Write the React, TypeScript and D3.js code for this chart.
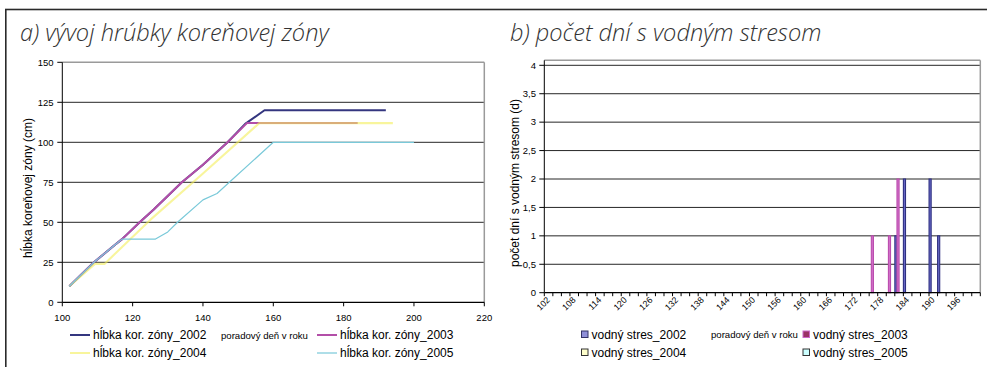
import React from "react";
import * as d3 from "d3";

// ---------- Data: left chart (root zone depth, cm) ----------
const years = ["2002", "2003", "2004", "2005"];
const depth2002Days = [102, 109, 115, 117, 122, 126, 134, 140, 147, 152, 157.5, 192];
const depth2002Vals = [10, 25, 36, 39.5, 50, 58, 75, 86, 100, 111.5, 120, 120];
const depth2003Days = [102, 109, 115, 117, 122, 126, 134, 140, 147, 152.5, 184];
const depth2003Vals = [10, 25, 36, 39.5, 50, 58, 75, 86, 100, 112, 112];
const depth2004Days = [102, 109.3, 112, 125, 140, 156, 194];
const depth2004Vals = [10, 24, 24, 51.5, 80.5, 112, 112];
const depth2005Days = [102, 109, 115, 117, 126.5, 130, 133, 140, 144, 147.5, 160, 200];
const depth2005Vals = [10, 25, 36, 39.5, 39.5, 44, 50.5, 64, 68, 75, 100, 100];
const leftXTicks = [100, 120, 140, 160, 180, 200, 220];
const leftYTicks = [0, 25, 50, 75, 100, 125, 150];

// ---------- Data: right chart (days with water stress) ----------
const stressDays = [
  102, 104, 106, 108, 110, 112, 114, 116, 118, 120, 122, 124, 126, 128, 130, 132, 134, 136, 138, 140,
  142, 144, 146, 148, 150, 152, 154, 156, 157, 158, 160, 162, 164, 166, 168, 170, 172, 174, 176, 178,
  180, 182, 184, 186, 188, 190, 192, 194, 196, 198, 200,
];
const stress2002Days = [182, 184, 190, 192];
const stress2002Vals = [1, 2, 2, 1];
const stress2003Days = [176, 180, 182];
const stress2003Vals = [1, 1, 2];
const stress2004Days: number[] = [];
const stress2004Vals: number[] = [];
const stress2005Days: number[] = [];
const stress2005Vals: number[] = [];
const rightYTicks = [0, 0.5, 1, 1.5, 2, 2.5, 3, 3.5, 4];

const lineColors = ["#34367f", "#b34fa8", "#f3ee5a", "#79c9d9"];
const lineWidths = [2, 2, 2.1, 1.2];
const lineOpacity = [1, 1, 0.6, 1];
const barFill = ["#6a6ac8", "#d070c8", "#ffffcc", "#ccffff"];
const barStroke = ["#2e3080", "#bb4cae", "#333333", "#333333"];
const legFill = ["#8f8fd8", "#993366", "#ffffcc", "#ccffff"];
const legStroke = ["#333366", "#cc66cc", "#333333", "#333333"];

const AX = "'Liberation Sans', Arial, sans-serif";
const TITLE = "'Open Sans', sans-serif";

export default function App() {
  // ---- left scales ----
  const xL = d3.scaleLinear().domain([100, 220]).range([62.3, 484.3]);
  const yL = d3.scaleLinear().domain([0, 150]).range([302.3, 62.3]);
  const line = d3
    .line<[number, number]>()
    .x((d) => xL(d[0]))
    .y((d) => yL(d[1]));
  const depthSeries: [number, number][][] = [
    depth2002Days.map((d, i) => [d, depth2002Vals[i]]),
    depth2003Days.map((d, i) => [d, depth2003Vals[i]]),
    depth2004Days.map((d, i) => [d, depth2004Vals[i]]),
    depth2005Days.map((d, i) => [d, depth2005Vals[i]]),
  ];

  // ---- right scales ----
  const catIdx = stressDays.map((_, i) => i);
  const xR = d3.scaleBand<number>().domain(catIdx).range([544.3, 980.3]).padding(0);
  const bw = xR.bandwidth();
  const inner = d3.scaleBand<string>().domain(years).range([0, bw]).paddingInner(0).paddingOuter(0.02);
  const yR = d3.scaleLinear().domain([0, 4]).range([292.7, 65.3]);
  const stressSeries = [
    { days: stress2002Days, vals: stress2002Vals },
    { days: stress2003Days, vals: stress2003Vals },
    { days: stress2004Days, vals: stress2004Vals },
    { days: stress2005Days, vals: stress2005Vals },
  ];
  const fmt = (v: number) => String(v).replace(".", ",");

  const lLeft = 62.3, lRight = 484.3, lTop = 62.3, lBot = 302.3;
  const rLeft = 544.3, rRight = 980.3, rTop = 60.3, rBot = 292.7;

  return (
    <svg
      width={987}
      height={367}
      style={{ position: "fixed", left: 0, top: 0, background: "#fff" }}
      xmlns="http://www.w3.org/2000/svg"
    >
      <rect x={0} y={0} width={987} height={367} fill="#fff" />
      {/* outer frame */}
      <rect x={5.8} y={9.5} width={1000} height={400} fill="none" stroke="#2a2a2a" strokeWidth={1.6} />

      {/* titles */}
      <text x={20} y={40.5} fontFamily={TITLE} fontStyle="italic" fontWeight={300} fontSize={23.6} fill="#333">
        a) vývoj hrúbky koreňovej zóny
      </text>
      <text x={510} y={40.5} fontFamily={TITLE} fontStyle="italic" fontWeight={300} fontSize={23.6} fill="#333">
        b) počet dní s vodným stresom
      </text>

      {/* ================= LEFT CHART ================= */}
      {leftYTicks
        .filter((t) => t > 0 && t < 150)
        .map((t) => (
          <line key={"lg" + t} x1={lLeft} x2={lRight} y1={yL(t)} y2={yL(t)} stroke="#262626" strokeWidth={1} />
        ))}
      <line x1={lLeft} x2={lRight} y1={lTop} y2={lTop} stroke="#9a9a9a" strokeWidth={1.5} />
      <line x1={lRight} x2={lRight} y1={lTop} y2={lBot} stroke="#9a9a9a" strokeWidth={1.5} />
      <line x1={lLeft} x2={lLeft} y1={lTop} y2={lBot} stroke="#000" strokeWidth={1} />
      <line x1={lLeft} x2={lRight} y1={lBot} y2={lBot} stroke="#000" strokeWidth={1.2} />
      {leftYTicks.map((t) => (
        <g key={"ly" + t}>
          <line x1={lLeft - 5} x2={lLeft} y1={yL(t)} y2={yL(t)} stroke="#000" />
          <text x={53.5} y={yL(t) + 3.4} textAnchor="end" fontFamily={AX} fontSize={9.5} fill="#000">
            {t}
          </text>
        </g>
      ))}
      {leftXTicks.map((t) => (
        <g key={"lx" + t}>
          <line x1={xL(t)} x2={xL(t)} y1={lBot} y2={lBot + 4} stroke="#000" />
          <text x={xL(t)} y={320.5} textAnchor="middle" fontFamily={AX} fontSize={9.5} fill="#000">
            {t}
          </text>
        </g>
      ))}
      <text
        transform="translate(32,188) rotate(-90)"
        textAnchor="middle"
        fontFamily={AX}
        fontSize={12}
        fill="#000"
      >
        hĺbka koreňovej zóny (cm)
      </text>
      {depthSeries.map((s, i) => (
        <path
          key={"ln" + i}
          d={line(s) || ""}
          fill="none"
          stroke={lineColors[i]}
          strokeWidth={lineWidths[i]}
          strokeOpacity={lineOpacity[i]}
          strokeLinejoin="round"
        />
      ))}
      <text x={221} y={338.5} fontFamily={AX} fontSize={9.6} fill="#000">
        poradový deň v roku
      </text>
      {[
        { x: 70, y: 335 },
        { x: 317, y: 335 },
        { x: 70, y: 353 },
        { x: 317, y: 353 },
      ].map((p, i) => (
        <g key={"ll" + i}>
          <line x1={p.x} x2={p.x + 20} y1={p.y} y2={p.y} stroke={lineColors[i]} strokeWidth={i === 2 ? 1.2 : lineWidths[i]} />
          <text x={p.x + 23} y={p.y + 4.3} fontFamily={AX} fontSize={12} fill="#000">
            {"hĺbka kor. zóny_" + years[i]}
          </text>
        </g>
      ))}

      {/* ================= RIGHT CHART ================= */}
      {rightYTicks
        .filter((t) => t > 0)
        .map((t) => (
          <line key={"rg" + t} x1={rLeft} x2={rRight} y1={yR(t)} y2={yR(t)} stroke="#262626" strokeWidth={1} />
        ))}
      <line x1={rLeft} x2={rRight} y1={rTop} y2={rTop} stroke="#9a9a9a" strokeWidth={1.5} />
      <line x1={rRight} x2={rRight} y1={rTop} y2={rBot} stroke="#9a9a9a" strokeWidth={1.5} />
      {stressSeries.map((s, si) =>
        s.days.map((d, j) => {
          const ci = stressDays.indexOf(d);
          const x0 = (xR(ci) as number) + (inner(years[si]) as number);
          const w = inner.bandwidth();
          return (
            <rect
              key={"b" + si + "_" + j}
              x={x0}
              y={yR(s.vals[j])}
              width={w}
              height={yR(0) - yR(s.vals[j])}
              fill={barFill[si]}
              stroke={barStroke[si]}
              strokeWidth={1.1}
            />
          );
        })
      )}
      <line x1={rLeft} x2={rLeft} y1={rTop} y2={rBot} stroke="#000" strokeWidth={1} />
      <line x1={rLeft} x2={rRight} y1={rBot} y2={rBot} stroke="#000" strokeWidth={1.2} />
      {rightYTicks.map((t) => (
        <g key={"ry" + t}>
          <line x1={rLeft - 5} x2={rLeft} y1={yR(t)} y2={yR(t)} stroke="#000" />
          <text x={536} y={yR(t) + 3.3} textAnchor="end" fontFamily={AX} fontSize={9.5} fill="#000">
            {fmt(t)}
          </text>
        </g>
      ))}
      {catIdx.map((i) => (
        <line key={"rt" + i} x1={xR(i) as number} x2={xR(i) as number} y1={rBot} y2={rBot + 3.5} stroke="#000" />
      ))}
      <line x1={rRight} x2={rRight} y1={rBot} y2={rBot + 3.5} stroke="#000" />
      {catIdx
        .filter((i) => i % 3 === 0 && i <= 48)
        .map((i) => {
          const cx = (xR(i) as number) + bw / 2;
          return (
            <text
              key={"rx" + i}
              transform={`translate(${cx + 2},${300.5}) rotate(-45)`}
              textAnchor="end"
              fontFamily={AX}
              fontSize={8.8}
              fill="#000"
            >
              {stressDays[i]}
            </text>
          );
        })}
      <text
        transform="translate(519,183) rotate(-90)"
        textAnchor="middle"
        fontFamily={AX}
        fontSize={12}
        fill="#000"
      >
        počet dní s vodným stresom (d)
      </text>
      <text x={711} y={338} fontFamily={AX} fontSize={9.6} fill="#000">
        poradový deň v roku
      </text>
      {[
        { x: 581.5, y: 331 },
        { x: 803, y: 331 },
        { x: 581.5, y: 349 },
        { x: 803, y: 349 },
      ].map((p, i) => (
        <g key={"rl" + i}>
          {i === 1 && <rect x={p.x - 2} y={p.y - 6} width={10} height={16} fill="#fff" />}
          <rect x={p.x} y={p.y} width={6.5} height={6.5} fill={legFill[i]} stroke={legStroke[i]} strokeWidth={1} />
          <text x={p.x + 10} y={p.y + 8} fontFamily={AX} fontSize={12} fill="#000">
            {"vodný stres_" + years[i]}
          </text>
        </g>
      ))}
    </svg>
  );
}
